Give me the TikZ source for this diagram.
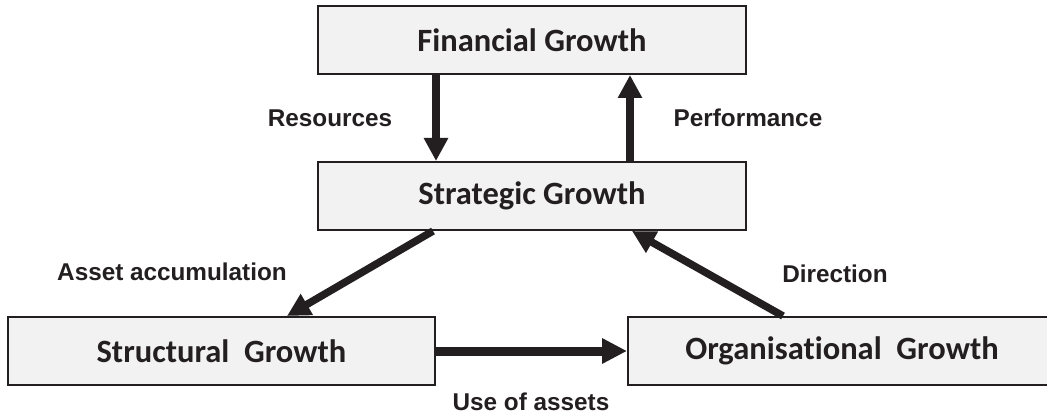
\documentclass[tikz,border=0pt]{standalone}
\usepackage{fontspec}
\newfontfamily\boxfont{Carlito}[Ligatures={NoCommon}]
\newfontfamily\labfont{Liberation Sans}
\usetikzlibrary{arrows.meta}
\definecolor{ink}{HTML}{231F20}
\definecolor{boxfill}{HTML}{F2F2F2}
\tikzset{
  gbox/.style={draw=ink, line width=2pt, fill=boxfill, minimum width=428pt, minimum height=68pt, inner sep=0pt, font=\boxfont\bfseries\fontsize{32.5}{36}\selectfont, text=ink},
  lab/.style={font=\labfont\bfseries\fontsize{24.3}{28}\selectfont, text=ink, inner sep=0pt},
  flow/.style={draw=ink, line width=7.5pt, -{Triangle[width=23pt,length=23pt]}, shorten >=0pt},
}
\begin{document}
\begin{tikzpicture}[x=1pt,y=-1pt]
\useasboundingbox[fill=white] (0,0) rectangle (1047,414);
\node[gbox] (fin) at (532,40) {Financial Growth};
\node[gbox] (str) at (532,196) {Strategic Growth};
\node[gbox, minimum width=427pt] (stc) at (221.5,351) {Structural\ \ Growth};
\node[gbox] (org) at (842,351) {Organisational\ \ Growth};
\draw[flow] ([xshift=-96pt]fin.south) -- ([xshift=-96pt]str.north);
\draw[flow] ([xshift=98pt]str.north) -- ([xshift=98pt]fin.south);
\draw[flow] ([xshift=-99pt]str.south) -- ([xshift=65.5pt]stc.north);
\draw[flow] ([xshift=-59pt]org.north) -- ([xshift=100pt]str.south);
\draw[flow, line width=9pt, -{Triangle[width=24pt,length=25pt]}] (stc.east) -- (org.west);
\node[lab] (l1) at (330,118) {Resources};
\node[lab] (l2) at (748,118) {Performance};
\node[lab] (l3) at (172,272) {Asset accumulation};
\node[lab] (l4) at (835,274) {Direction};
\node[lab] (l5) at (531,402) {Use of assets};
\end{tikzpicture}
\end{document}
